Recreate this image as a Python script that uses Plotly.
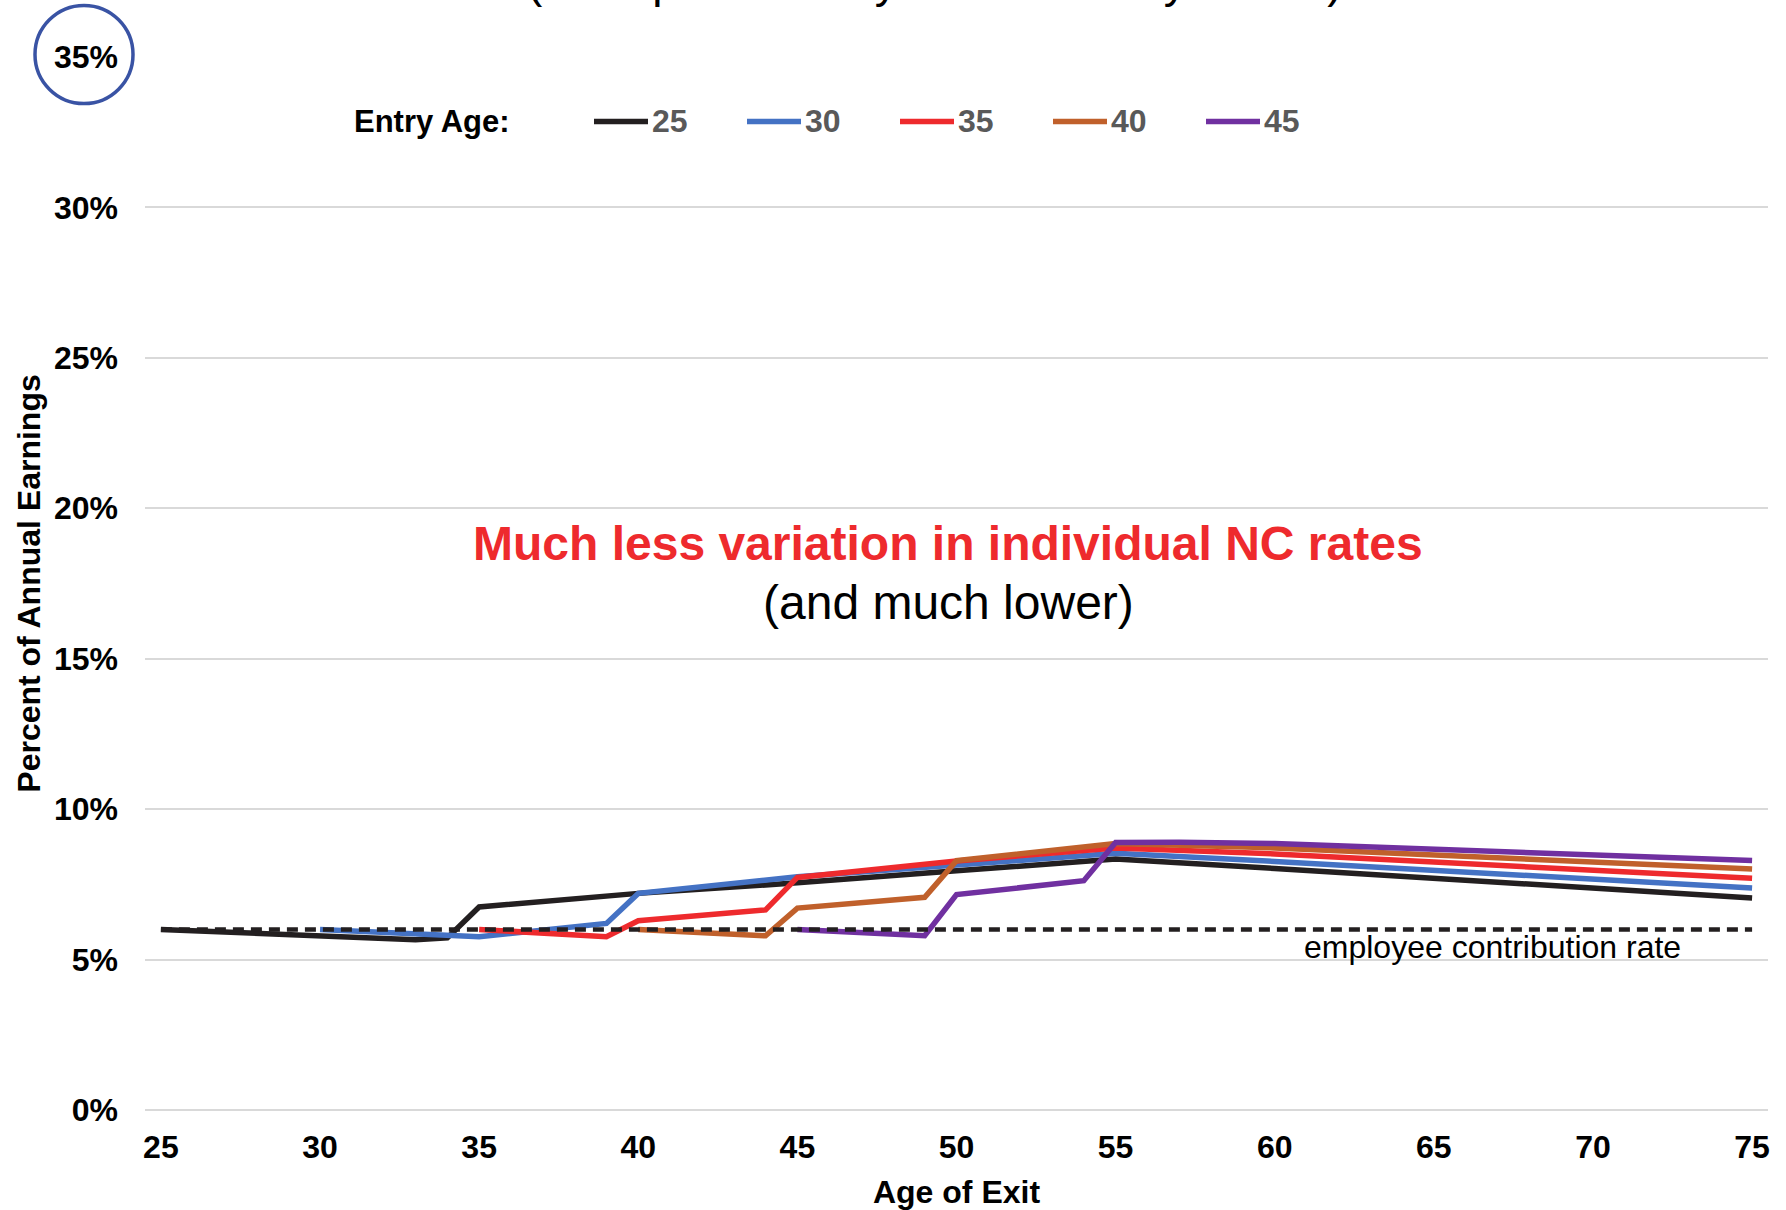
import plotly.graph_objects as go

# ---------------- data ----------------
entry_ages = ["25", "30", "35", "40", "45"]

exit_age_e25 = [25, 30, 33, 34, 35, 40, 45, 50, 55, 60, 65, 70, 75]
nc_rate_e25 = [6.00, 5.80, 5.66, 5.72, 6.75, 7.20, 7.55, 7.95, 8.34, 8.03, 7.70, 7.38, 7.05]

exit_age_e30 = [30, 35, 39, 40, 45, 50, 55, 60, 65, 70, 75]
nc_rate_e30 = [6.00, 5.76, 6.20, 7.20, 7.75, 8.12, 8.53, 8.26, 7.97, 7.68, 7.38]

exit_age_e35 = [35, 39, 40, 44, 45, 50, 55, 60, 65, 70, 75]
nc_rate_e35 = [6.00, 5.76, 6.29, 6.65, 7.73, 8.28, 8.71, 8.51, 8.24, 7.97, 7.70]

exit_age_e40 = [40, 44, 45, 49, 50, 55, 60, 65, 70, 75]
nc_rate_e40 = [6.00, 5.79, 6.71, 7.07, 8.29, 8.86, 8.71, 8.48, 8.25, 8.01]

exit_age_e45 = [45, 49, 50, 54, 55, 57, 60, 65, 70, 75]
nc_rate_e45 = [6.00, 5.79, 7.16, 7.62, 8.89, 8.90, 8.86, 8.68, 8.49, 8.29]

contrib_age = [25, 75]
contrib_rate = [6.0, 6.0]

x_ticks = [25, 30, 35, 40, 45, 50, 55, 60, 65, 70, 75]
y_ticks = [0, 5, 10, 15, 20, 25, 30, 35]

series_x = [exit_age_e25, exit_age_e30, exit_age_e35, exit_age_e40, exit_age_e45]
series_y = [nc_rate_e25, nc_rate_e30, nc_rate_e35, nc_rate_e40, nc_rate_e45]
colors = ["#231f20", "#4472c4", "#ee2a2d", "#c0602b", "#7030a0"]

# ---------------- layout constants ----------------
W, H = 1786, 1210
ML, MR, MT, MB = 145, 18, 57, 100
PW, PH = W - ML - MR, H - MT - MB
FONT = "Liberation Sans, Arial, Helvetica, sans-serif"


def paper_x(px):
    return (px - ML) / PW


def paper_y(py):
    return (H - MB - py) / PH


fig = go.Figure()

for name, xs, ys, c in zip(entry_ages, series_x, series_y, colors):
    fig.add_trace(go.Scatter(
        x=xs, y=ys, mode="lines", name=name,
        line=dict(color=c, width=5.5), showlegend=False,
        hovertemplate="Exit age %{x}: %{y:.2f}%<extra>Entry " + name + "</extra>",
    ))

fig.add_trace(go.Scatter(
    x=contrib_age, y=contrib_rate, mode="lines", name="employee contribution rate",
    line=dict(color="#231f20", width=4.5, dash="11px,7px"), showlegend=False,
))

annotations = []
shapes = []

# manual legend
annotations.append(dict(
    text="Entry Age:", xref="paper", yref="paper", x=paper_x(352), y=paper_y(121),
    xanchor="left", yanchor="middle", showarrow=False,
    font=dict(family=FONT, size=31, color="#000000", weight="bold"),
))
legend_x0 = [594, 747, 900, 1053, 1206]
for name, c, x0 in zip(entry_ages, colors, legend_x0):
    shapes.append(dict(
        type="line", xref="paper", yref="paper",
        x0=paper_x(x0), x1=paper_x(x0 + 54), y0=paper_y(121.5), y1=paper_y(121.5),
        line=dict(color=c, width=5.5),
    ))
    annotations.append(dict(
        text=name, xref="paper", yref="paper", x=paper_x(x0 + 56), y=paper_y(121),
        xanchor="left", yanchor="middle", showarrow=False,
        font=dict(family=FONT, size=32, color="#595959", weight="bold"),
    ))

# text annotations
annotations.append(dict(
    text="Much less variation in individual NC rates", xref="paper", yref="y",
    x=paper_x(948), y=18.84, xanchor="center", yanchor="middle", showarrow=False,
    font=dict(family=FONT, size=48, color="#ee2a2d", weight="bold"),
))
annotations.append(dict(
    text="(and much lower)", xref="paper", yref="y",
    x=paper_x(948), y=16.87, xanchor="center", yanchor="middle", showarrow=False,
    font=dict(family=FONT, size=48, color="#000000"),
))
annotations.append(dict(
    text="employee contribution rate", xref="paper", yref="y",
    x=paper_x(1492), y=5.42, xanchor="center", yanchor="middle", showarrow=False,
    font=dict(family=FONT, size=32, color="#000000"),
))
# subtitle cut off at the top of the picture (only its descenders show)
annotations.append(dict(
    text="(Total plan cost by exit and entry cohort)", xref="paper", yref="paper",
    x=paper_x(935), y=paper_y(-19), xanchor="center", yanchor="middle", showarrow=False,
    font=dict(family=FONT, size=46, color="#000000"),
))

# circle around the 35% label (paper refs so it is not clipped by the plot area)
shapes.append(dict(
    type="circle", xref="paper", yref="paper", xsizemode="pixel", ysizemode="pixel",
    xanchor=paper_x(84), yanchor=paper_y(54.5), x0=-49, x1=49, y0=-49, y1=49,
    line=dict(color="#3953a4", width=3.5),
))

fig.update_layout(
    width=W, height=H,
    margin=dict(l=ML, r=MR, t=MT, b=MB, pad=0, autoexpand=False),
    paper_bgcolor="#ffffff", plot_bgcolor="#ffffff",
    font=dict(family=FONT, color="#000000"),
    annotations=annotations, shapes=shapes,
    showlegend=False,
    xaxis=dict(
        range=[24.5, 75.5], tickvals=x_ticks, ticktext=[str(v) for v in x_ticks],
        showgrid=False, zeroline=False, showline=False, ticks="",
        ticklabelstandoff=15, automargin=False,
        tickfont=dict(family=FONT, size=32, color="#000000", weight="bold"),
        title=dict(text="Age of Exit", standoff=16,
                   font=dict(family=FONT, size=32, color="#000000", weight="bold")),
    ),
    yaxis=dict(
        range=[0, 35], tickvals=y_ticks, ticktext=[f"{v}%" for v in y_ticks],
        showgrid=True, gridcolor="#d9d9d9", gridwidth=2,
        zeroline=True, zerolinecolor="#d9d9d9", zerolinewidth=2,
        showline=False, ticks="", ticklabelstandoff=26, automargin=False,
        tickfont=dict(family=FONT, size=32, color="#000000", weight="bold"),
        title=dict(text="Percent of Annual Earnings", standoff=3,
                   font=dict(family=FONT, size=32, color="#000000", weight="bold")),
    ),
)

fig.write_html("out.html")
